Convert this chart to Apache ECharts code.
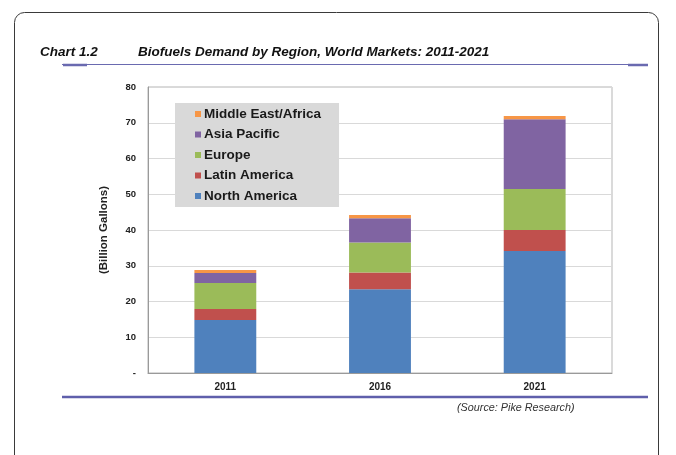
<!DOCTYPE html>
<html>
<head>
<meta charset="utf-8">
<script src="https://cdn.jsdelivr.net/npm/echarts@6/dist/echarts.min.js"></script>
<style>
  html, body { margin: 0; padding: 0; background: #fff; }
  #chart { width: 676px; height: 455px; }
</style>
</head>
<body>
<div id="chart"></div>
<script>
// values (billion gallons)
const years = ['2011', '2016', '2021']
const northAmerica = [14.8, 23.4, 34.1]
const latinAmerica = [3.1, 4.7, 5.9]
const europe = [7.3, 8.4, 11.5]
const asiaPacific = [2.8, 6.8, 19.5]
const middleEastAfrica = [0.8, 0.9, 0.9]

const font = 'Liberation Sans, Arial, sans-serif'

let myChart = echarts.init(document.getElementById('chart'))

function bar(name, data, color) {
    return {
        name: name,
        type: 'bar',
        stack: 'total',
        barWidth: '40%',
        itemStyle: { color: color },
        data: data
    }
}

myChart.setOption({
    animation: false,
    textStyle: { fontFamily: font },
    grid: {
        left: 148,
        right: 64,
        top: 87,
        bottom: 82,
        show: true,
        borderColor: '#b5b5b5',
        borderWidth: 1
    },
    legend: {
        // top to bottom like the original
        data: ['Middle East/Africa', 'Asia Pacific', 'Europe', 'Latin America', 'North America'],
        orient: 'vertical',
        left: 175,
        top: 103,
        backgroundColor: '#d9d9d9',
        padding: [4, 18, 4, 20],
        itemGap: 6.5,
        itemWidth: 6,
        itemHeight: 6,
        icon: 'rect',
        textStyle: { fontFamily: font, fontSize: 13.5, fontWeight: 'bold', color: '#1a1a1a', padding: [0, 0, 0, -2] }
    },
    xAxis: {
        type: 'category',
        data: years,
        axisLine: { lineStyle: { color: '#9a9a9a' } },
        axisTick: { length: 4, lineStyle: { color: '#9a9a9a' } },
        axisLabel: { fontFamily: font, fontSize: 10, fontWeight: 'bold', color: '#222', margin: 9 }
    },
    yAxis: {
        type: 'value',
        min: 0,
        max: 80,
        interval: 10,
        name: '(Billion Gallons)',
        nameLocation: 'middle',
        nameGap: 38,
        nameTextStyle: { fontFamily: font, fontSize: 11.5, fontWeight: 'bold', color: '#222' },
        axisLine: { show: true, lineStyle: { color: '#9a9a9a' } },
        axisTick: { show: false },
        splitLine: { lineStyle: { color: '#d9d9d9' } },
        axisLabel: {
            fontFamily: font, fontSize: 9.5, fontWeight: 'bold', color: '#222', margin: 12,
            formatter: v => v === 0 ? '-' : v
        }
    },
    series: [
        bar('North America', northAmerica, '#4f81bd'),
        bar('Latin America', latinAmerica, '#c0504d'),
        bar('Europe', europe, '#9bbb59'),
        bar('Asia Pacific', asiaPacific, '#8064a2'),
        bar('Middle East/Africa', middleEastAfrica, '#f79646')
    ],
    graphic: [
        // page frame
        { type: 'rect', shape: { x: 14.5, y: 12.5, width: 644, height: 470, r: 10 },
          style: { fill: 'none', stroke: '#3a3a3a', lineWidth: 1 }, z: -1 },
        { type: 'text', left: 40, top: 45,
          style: { text: 'Chart 1.2', font: 'italic bold 13.5px ' + font, fill: '#111' } },
        { type: 'text', left: 138, top: 45,
          style: { text: 'Biofuels Demand by Region, World Markets: 2011-2021', font: 'italic bold 13.5px ' + font, fill: '#111' } },
        { type: 'line', shape: { x1: 62, y1: 64.5, x2: 648, y2: 64.5 }, style: { stroke: '#6a6ab0', lineWidth: 1.2 } },
        { type: 'line', shape: { x1: 63, y1: 65, x2: 87, y2: 65 }, style: { stroke: '#6a6ab0', lineWidth: 2.5 } },
        { type: 'line', shape: { x1: 628, y1: 65, x2: 648, y2: 65 }, style: { stroke: '#6a6ab0', lineWidth: 2.5 } },
        { type: 'line', shape: { x1: 62, y1: 397, x2: 648, y2: 397 }, style: { stroke: '#5f5fab', lineWidth: 2.5 } },
        { type: 'text', left: 457, top: 402,
          style: { text: '(Source: Pike Research)', font: 'italic 10.8px ' + font, fill: '#333' } }
    ]
})
</script>
</body>
</html>
